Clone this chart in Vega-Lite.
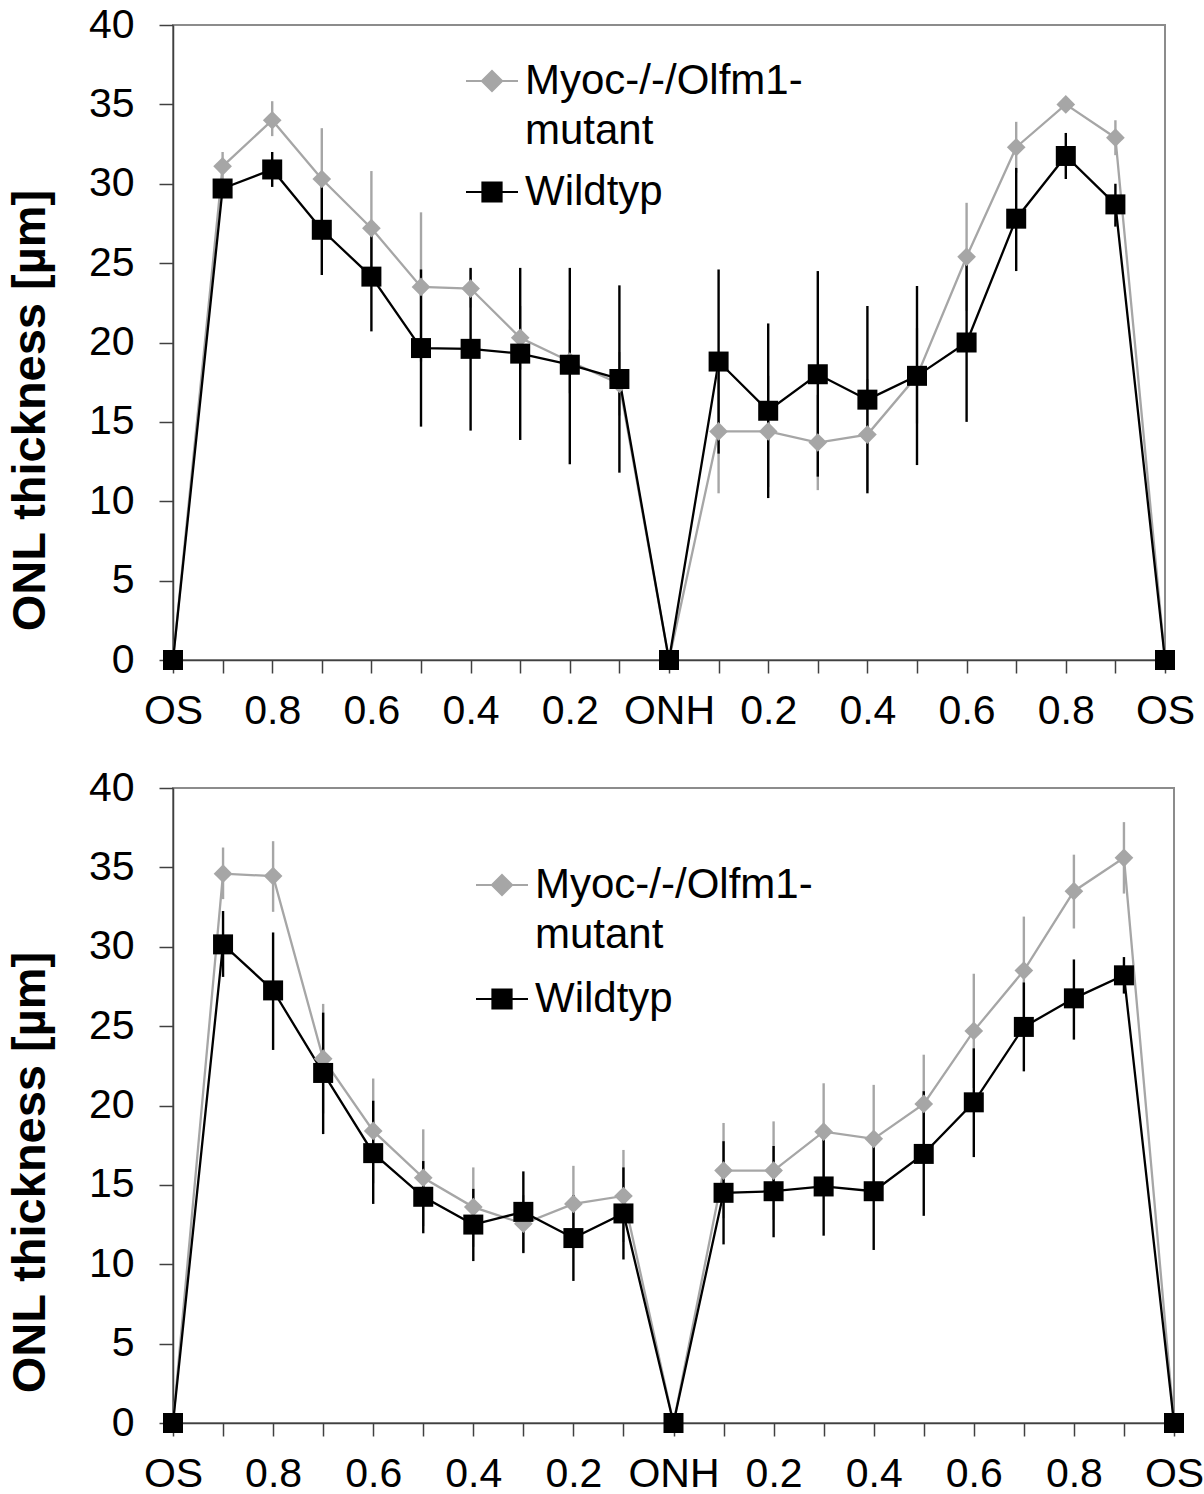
{
  "$schema": "https://vega.github.io/schema/vega-lite/v6.json",
  "background": "white",
  "padding": {"left": 5, "top": 3, "right": 30, "bottom": 5},
  "spacing": 128,
  "bounds": "flush",
  "config": {
    "font": "Liberation Sans",
    "style": {"guide-label": {"lineHeight": 50}},
    "view": {"stroke": "#8c8c8c", "strokeWidth": 2},
    "axis": {"grid": false, "domainColor": "#404040", "domainWidth": 1.5, "tickColor": "#404040", "tickWidth": 1.5, "labelColor": "#000000", "labelFontSize": 41, "labelFont": "Liberation Sans"},
    "axisY": {"titleFontSize": 47, "titleFontWeight": "bold", "titleColor": "#000000", "titleFont": "Liberation Sans", "titlePadding": 34, "tickSize": 14, "labelPadding": 25},
    "axisX": {"tickSize": 13, "labelPadding": 18, "labelOverlap": false, "labelFlush": false, "labelBound": false},
    "legend": {
      "title": null, "orient": "none", "direction": "vertical", "padding": 0,
      "symbolSize": 2704, "symbolStrokeWidth": 2, "symbolOpacity": 1,
      "labelFontSize": 42, "labelColor": "#000000", "labelFont": "Liberation Sans", "labelOffset": 6, "labelLimit": 1000
    }
  },
  "datasets": {
    "top": [
      {"pos": 0, "group": "Myoc-/-/Olfm1-mutant", "mean": 0, "lo": null, "hi": null},
      {"pos": 1, "group": "Myoc-/-/Olfm1-mutant", "mean": 31.1, "lo": 30.1, "hi": 32.0},
      {"pos": 2, "group": "Myoc-/-/Olfm1-mutant", "mean": 34.0, "lo": 33.0, "hi": 35.2},
      {"pos": 3, "group": "Myoc-/-/Olfm1-mutant", "mean": 30.3, "lo": 27.1, "hi": 33.5},
      {"pos": 4, "group": "Myoc-/-/Olfm1-mutant", "mean": 27.2, "lo": 23.6, "hi": 30.8},
      {"pos": 5, "group": "Myoc-/-/Olfm1-mutant", "mean": 23.5, "lo": 18.8, "hi": 28.2},
      {"pos": 6, "group": "Myoc-/-/Olfm1-mutant", "mean": 23.4, "lo": 22.2, "hi": 24.6},
      {"pos": 7, "group": "Myoc-/-/Olfm1-mutant", "mean": 20.3, "lo": 18.3, "hi": 22.3},
      {"pos": 8, "group": "Myoc-/-/Olfm1-mutant", "mean": 18.8, "lo": 16.8, "hi": 20.8},
      {"pos": 9, "group": "Myoc-/-/Olfm1-mutant", "mean": 17.4, "lo": 15.4, "hi": 19.4},
      {"pos": 10, "group": "Myoc-/-/Olfm1-mutant", "mean": 0, "lo": null, "hi": null},
      {"pos": 11, "group": "Myoc-/-/Olfm1-mutant", "mean": 14.4, "lo": 10.5, "hi": 18.3},
      {"pos": 12, "group": "Myoc-/-/Olfm1-mutant", "mean": 14.4, "lo": 10.9, "hi": 17.9},
      {"pos": 13, "group": "Myoc-/-/Olfm1-mutant", "mean": 13.7, "lo": 10.7, "hi": 16.7},
      {"pos": 14, "group": "Myoc-/-/Olfm1-mutant", "mean": 14.2, "lo": 10.7, "hi": 17.7},
      {"pos": 15, "group": "Myoc-/-/Olfm1-mutant", "mean": 17.9, "lo": 14.9, "hi": 20.9},
      {"pos": 16, "group": "Myoc-/-/Olfm1-mutant", "mean": 25.4, "lo": 22.0, "hi": 28.8},
      {"pos": 17, "group": "Myoc-/-/Olfm1-mutant", "mean": 32.3, "lo": 30.7, "hi": 33.9},
      {"pos": 18, "group": "Myoc-/-/Olfm1-mutant", "mean": 35.0, "lo": 34.7, "hi": 35.3},
      {"pos": 19, "group": "Myoc-/-/Olfm1-mutant", "mean": 32.9, "lo": 31.8, "hi": 34.0},
      {"pos": 20, "group": "Myoc-/-/Olfm1-mutant", "mean": 0, "lo": null, "hi": null},
      {"pos": 0, "group": "Wildtyp", "mean": 0, "lo": null, "hi": null},
      {"pos": 1, "group": "Wildtyp", "mean": 29.7, "lo": 29.2, "hi": 30.2},
      {"pos": 2, "group": "Wildtyp", "mean": 30.9, "lo": 29.8, "hi": 32.0},
      {"pos": 3, "group": "Wildtyp", "mean": 27.1, "lo": 24.25, "hi": 30.0},
      {"pos": 4, "group": "Wildtyp", "mean": 24.15, "lo": 20.7, "hi": 27.6},
      {"pos": 5, "group": "Wildtyp", "mean": 19.65, "lo": 14.7, "hi": 24.6},
      {"pos": 6, "group": "Wildtyp", "mean": 19.6, "lo": 14.45, "hi": 24.7},
      {"pos": 7, "group": "Wildtyp", "mean": 19.3, "lo": 13.86, "hi": 24.7},
      {"pos": 8, "group": "Wildtyp", "mean": 18.6, "lo": 12.33, "hi": 24.7},
      {"pos": 9, "group": "Wildtyp", "mean": 17.7, "lo": 11.8, "hi": 23.6},
      {"pos": 10, "group": "Wildtyp", "mean": 0, "lo": null, "hi": null},
      {"pos": 11, "group": "Wildtyp", "mean": 18.8, "lo": 13.0, "hi": 24.6},
      {"pos": 12, "group": "Wildtyp", "mean": 15.7, "lo": 10.2, "hi": 21.2},
      {"pos": 13, "group": "Wildtyp", "mean": 18.0, "lo": 11.55, "hi": 24.5},
      {"pos": 14, "group": "Wildtyp", "mean": 16.4, "lo": 10.5, "hi": 22.3},
      {"pos": 15, "group": "Wildtyp", "mean": 17.9, "lo": 12.28, "hi": 23.56},
      {"pos": 16, "group": "Wildtyp", "mean": 20.0, "lo": 15.0, "hi": 25.0},
      {"pos": 17, "group": "Wildtyp", "mean": 27.8, "lo": 24.5, "hi": 31.0},
      {"pos": 18, "group": "Wildtyp", "mean": 31.75, "lo": 30.3, "hi": 33.2},
      {"pos": 19, "group": "Wildtyp", "mean": 28.7, "lo": 27.3, "hi": 30.0},
      {"pos": 20, "group": "Wildtyp", "mean": 0, "lo": null, "hi": null}
    ],
    "bottom": [
      {"pos": 0, "group": "Myoc-/-/Olfm1-mutant", "mean": 0, "lo": null, "hi": null},
      {"pos": 1, "group": "Myoc-/-/Olfm1-mutant", "mean": 34.6, "lo": 33.0, "hi": 36.25},
      {"pos": 2, "group": "Myoc-/-/Olfm1-mutant", "mean": 34.45, "lo": 32.2, "hi": 36.65},
      {"pos": 3, "group": "Myoc-/-/Olfm1-mutant", "mean": 22.95, "lo": 19.5, "hi": 26.4},
      {"pos": 4, "group": "Myoc-/-/Olfm1-mutant", "mean": 18.4, "lo": 15.1, "hi": 21.7},
      {"pos": 5, "group": "Myoc-/-/Olfm1-mutant", "mean": 15.45, "lo": 12.4, "hi": 18.5},
      {"pos": 6, "group": "Myoc-/-/Olfm1-mutant", "mean": 13.6, "lo": 11.1, "hi": 16.1},
      {"pos": 7, "group": "Myoc-/-/Olfm1-mutant", "mean": 12.55, "lo": 10.75, "hi": 14.35},
      {"pos": 8, "group": "Myoc-/-/Olfm1-mutant", "mean": 13.8, "lo": 11.4, "hi": 16.2},
      {"pos": 9, "group": "Myoc-/-/Olfm1-mutant", "mean": 14.3, "lo": 11.4, "hi": 17.2},
      {"pos": 10, "group": "Myoc-/-/Olfm1-mutant", "mean": 0, "lo": null, "hi": null},
      {"pos": 11, "group": "Myoc-/-/Olfm1-mutant", "mean": 15.9, "lo": 12.9, "hi": 18.9},
      {"pos": 12, "group": "Myoc-/-/Olfm1-mutant", "mean": 15.9, "lo": 12.8, "hi": 19.0},
      {"pos": 13, "group": "Myoc-/-/Olfm1-mutant", "mean": 18.35, "lo": 15.35, "hi": 21.4},
      {"pos": 14, "group": "Myoc-/-/Olfm1-mutant", "mean": 17.9, "lo": 14.55, "hi": 21.3},
      {"pos": 15, "group": "Myoc-/-/Olfm1-mutant", "mean": 20.1, "lo": 17.0, "hi": 23.2},
      {"pos": 16, "group": "Myoc-/-/Olfm1-mutant", "mean": 24.7, "lo": 21.1, "hi": 28.3},
      {"pos": 17, "group": "Myoc-/-/Olfm1-mutant", "mean": 28.5, "lo": 25.0, "hi": 31.9},
      {"pos": 18, "group": "Myoc-/-/Olfm1-mutant", "mean": 33.5, "lo": 31.15, "hi": 35.8},
      {"pos": 19, "group": "Myoc-/-/Olfm1-mutant", "mean": 35.6, "lo": 33.35, "hi": 37.85},
      {"pos": 20, "group": "Myoc-/-/Olfm1-mutant", "mean": 0, "lo": null, "hi": null},
      {"pos": 0, "group": "Wildtyp", "mean": 0, "lo": null, "hi": null},
      {"pos": 1, "group": "Wildtyp", "mean": 30.15, "lo": 28.1, "hi": 32.25},
      {"pos": 2, "group": "Wildtyp", "mean": 27.25, "lo": 23.5, "hi": 30.9},
      {"pos": 3, "group": "Wildtyp", "mean": 22.05, "lo": 18.2, "hi": 25.85},
      {"pos": 4, "group": "Wildtyp", "mean": 17.0, "lo": 13.8, "hi": 20.3},
      {"pos": 5, "group": "Wildtyp", "mean": 14.25, "lo": 11.95, "hi": 16.5},
      {"pos": 6, "group": "Wildtyp", "mean": 12.5, "lo": 10.2, "hi": 14.75},
      {"pos": 7, "group": "Wildtyp", "mean": 13.3, "lo": 10.7, "hi": 15.85},
      {"pos": 8, "group": "Wildtyp", "mean": 11.65, "lo": 8.95, "hi": 14.35},
      {"pos": 9, "group": "Wildtyp", "mean": 13.2, "lo": 10.3, "hi": 16.1},
      {"pos": 10, "group": "Wildtyp", "mean": 0, "lo": null, "hi": null},
      {"pos": 11, "group": "Wildtyp", "mean": 14.5, "lo": 11.25, "hi": 17.75},
      {"pos": 12, "group": "Wildtyp", "mean": 14.6, "lo": 11.7, "hi": 17.45},
      {"pos": 13, "group": "Wildtyp", "mean": 14.9, "lo": 11.8, "hi": 18.0},
      {"pos": 14, "group": "Wildtyp", "mean": 14.6, "lo": 10.9, "hi": 18.3},
      {"pos": 15, "group": "Wildtyp", "mean": 16.95, "lo": 13.05, "hi": 20.9},
      {"pos": 16, "group": "Wildtyp", "mean": 20.2, "lo": 16.75, "hi": 23.6},
      {"pos": 17, "group": "Wildtyp", "mean": 24.95, "lo": 22.15, "hi": 27.75},
      {"pos": 18, "group": "Wildtyp", "mean": 26.75, "lo": 24.15, "hi": 29.2},
      {"pos": 19, "group": "Wildtyp", "mean": 28.2, "lo": 27.05, "hi": 29.35},
      {"pos": 20, "group": "Wildtyp", "mean": 0, "lo": null, "hi": null}
    ]
  },
  "resolve": {
    "scale": {"fill": "independent", "stroke": "independent", "shape": "independent"},
    "legend": {"fill": "independent", "stroke": "independent", "shape": "independent"}
  },
  "vconcat": [
    {
      "width": 992,
      "height": 635,
      "data": {"name": "top"},
      "encoding": {
        "x": {
          "field": "pos", "type": "quantitative",
          "scale": {"domain": [0, 20], "nice": false, "zero": false},
          "axis": {
            "title": null,
            "values": [0,1,2,3,4,5,6,7,8,9,10,11,12,13,14,15,16,17,18,19,20],
            "labelExpr": "['OS','','0.8','','0.6','','0.4','','0.2','','ONH','','0.2','','0.4','','0.6','','0.8','','OS'][datum.value]"
          }
        }
      },
      "layer": [
        {
          "transform": [{"filter": "false"}],
          "mark": {"type": "point", "filled": true, "opacity": 1},
          "encoding": {
            "y": {
              "field": "mean", "type": "quantitative", "scale": {"domain": [0, 40], "nice": false}, "title": "ONL thickness [µm]",
              "axis": {"values": [0,5,10,15,20,25,30,35,40], "titleY": 385}
            },
            "fill": {
              "field": "group", "type": "nominal",
              "scale": {"domain": ["Myoc-/-/Olfm1-mutant", "Wildtyp"], "range": ["#a6a6a6", "#000000"]},
              "legend": {"legendX": 292, "legendY": 29, "rowPadding": 13, "labelExpr": "datum.label === 'Myoc-/-/Olfm1-mutant' ? ['Myoc-/-/Olfm1-', 'mutant'] : datum.label"}
            },
            "stroke": {
              "field": "group", "type": "nominal",
              "scale": {"domain": ["Myoc-/-/Olfm1-mutant", "Wildtyp"], "range": ["#a6a6a6", "#000000"]},
              "legend": {"legendX": 292, "legendY": 29, "rowPadding": 13, "labelExpr": "datum.label === 'Myoc-/-/Olfm1-mutant' ? ['Myoc-/-/Olfm1-', 'mutant'] : datum.label"}
            },
            "shape": {
              "field": "group", "type": "nominal",
              "scale": {"domain": ["Myoc-/-/Olfm1-mutant", "Wildtyp"], "range": ["M-1,0L1,0M0,-0.39L0.39,0L0,0.39L-0.39,0Z", "M-1,0L1,0M-0.37,-0.37L0.37,-0.37L0.37,0.37L-0.37,0.37Z"]},
              "legend": {"legendX": 292, "legendY": 29, "rowPadding": 13, "labelExpr": "datum.label === 'Myoc-/-/Olfm1-mutant' ? ['Myoc-/-/Olfm1-', 'mutant'] : datum.label"}
            }
          }
        },
        {
          "mark": {"type": "line", "strokeWidth": 2.3},
          "encoding": {
            "y": {"field": "mean", "type": "quantitative", "title": "ONL thickness [µm]"},
            "stroke": {"field": "group", "type": "nominal", "scale": {"domain": ["Myoc-/-/Olfm1-mutant", "Wildtyp"], "range": ["#a6a6a6", "#000000"]}}
          }
        },
        {
          "mark": {"type": "rule", "strokeWidth": 2.4},
          "encoding": {
            "y": {"field": "lo", "type": "quantitative", "title": "ONL thickness [µm]"},
            "y2": {"field": "hi"},
            "stroke": {"field": "group", "type": "nominal", "scale": {"domain": ["Myoc-/-/Olfm1-mutant", "Wildtyp"], "range": ["#a6a6a6", "#000000"]}}
          }
        },
        {
          "transform": [{"filter": "datum.group === 'Myoc-/-/Olfm1-mutant'"}],
          "mark": {"type": "point", "filled": true, "opacity": 1, "size": 350, "shape": "diamond"},
          "encoding": {
            "y": {"field": "mean", "type": "quantitative", "title": "ONL thickness [µm]"},
            "fill": {"field": "group", "type": "nominal", "scale": {"domain": ["Myoc-/-/Olfm1-mutant", "Wildtyp"], "range": ["#a6a6a6", "#000000"]}}
          }
        },
        {
          "transform": [{"filter": "datum.group === 'Wildtyp'"}],
          "mark": {"type": "point", "filled": true, "opacity": 1, "size": 400, "shape": "square"},
          "encoding": {
            "y": {"field": "mean", "type": "quantitative", "title": "ONL thickness [µm]"},
            "fill": {"field": "group", "type": "nominal", "scale": {"domain": ["Myoc-/-/Olfm1-mutant", "Wildtyp"], "range": ["#a6a6a6", "#000000"]}}
          }
        }
      ]
    },
    {
      "width": 1001,
      "height": 635,
      "data": {"name": "bottom"},
      "encoding": {
        "x": {
          "field": "pos", "type": "quantitative",
          "scale": {"domain": [0, 20], "nice": false, "zero": false},
          "axis": {
            "title": null,
            "values": [0,1,2,3,4,5,6,7,8,9,10,11,12,13,14,15,16,17,18,19,20],
            "labelExpr": "['OS','','0.8','','0.6','','0.4','','0.2','','ONH','','0.2','','0.4','','0.6','','0.8','','OS'][datum.value]"
          }
        }
      },
      "layer": [
        {
          "transform": [{"filter": "false"}],
          "mark": {"type": "point", "filled": true, "opacity": 1},
          "encoding": {
            "y": {
              "field": "mean", "type": "quantitative", "scale": {"domain": [0, 40], "nice": false}, "title": "ONL thickness [µm]",
              "axis": {"values": [0,5,10,15,20,25,30,35,40], "titleY": 384}
            },
            "fill": {
              "field": "group", "type": "nominal",
              "scale": {"domain": ["Myoc-/-/Olfm1-mutant", "Wildtyp"], "range": ["#a6a6a6", "#000000"]},
              "legend": {"legendX": 302, "legendY": 70, "rowPadding": 16, "labelExpr": "datum.label === 'Myoc-/-/Olfm1-mutant' ? ['Myoc-/-/Olfm1-', 'mutant'] : datum.label"}
            },
            "stroke": {
              "field": "group", "type": "nominal",
              "scale": {"domain": ["Myoc-/-/Olfm1-mutant", "Wildtyp"], "range": ["#a6a6a6", "#000000"]},
              "legend": {"legendX": 302, "legendY": 70, "rowPadding": 16, "labelExpr": "datum.label === 'Myoc-/-/Olfm1-mutant' ? ['Myoc-/-/Olfm1-', 'mutant'] : datum.label"}
            },
            "shape": {
              "field": "group", "type": "nominal",
              "scale": {"domain": ["Myoc-/-/Olfm1-mutant", "Wildtyp"], "range": ["M-1,0L1,0M0,-0.39L0.39,0L0,0.39L-0.39,0Z", "M-1,0L1,0M-0.37,-0.37L0.37,-0.37L0.37,0.37L-0.37,0.37Z"]},
              "legend": {"legendX": 302, "legendY": 70, "rowPadding": 16, "labelExpr": "datum.label === 'Myoc-/-/Olfm1-mutant' ? ['Myoc-/-/Olfm1-', 'mutant'] : datum.label"}
            }
          }
        },
        {
          "mark": {"type": "line", "strokeWidth": 2.3},
          "encoding": {
            "y": {"field": "mean", "type": "quantitative", "title": "ONL thickness [µm]"},
            "stroke": {"field": "group", "type": "nominal", "scale": {"domain": ["Myoc-/-/Olfm1-mutant", "Wildtyp"], "range": ["#a6a6a6", "#000000"]}}
          }
        },
        {
          "mark": {"type": "rule", "strokeWidth": 2.4},
          "encoding": {
            "y": {"field": "lo", "type": "quantitative", "title": "ONL thickness [µm]"},
            "y2": {"field": "hi"},
            "stroke": {"field": "group", "type": "nominal", "scale": {"domain": ["Myoc-/-/Olfm1-mutant", "Wildtyp"], "range": ["#a6a6a6", "#000000"]}}
          }
        },
        {
          "transform": [{"filter": "datum.group === 'Myoc-/-/Olfm1-mutant'"}],
          "mark": {"type": "point", "filled": true, "opacity": 1, "size": 350, "shape": "diamond"},
          "encoding": {
            "y": {"field": "mean", "type": "quantitative", "title": "ONL thickness [µm]"},
            "fill": {"field": "group", "type": "nominal", "scale": {"domain": ["Myoc-/-/Olfm1-mutant", "Wildtyp"], "range": ["#a6a6a6", "#000000"]}}
          }
        },
        {
          "transform": [{"filter": "datum.group === 'Wildtyp'"}],
          "mark": {"type": "point", "filled": true, "opacity": 1, "size": 400, "shape": "square"},
          "encoding": {
            "y": {"field": "mean", "type": "quantitative", "title": "ONL thickness [µm]"},
            "fill": {"field": "group", "type": "nominal", "scale": {"domain": ["Myoc-/-/Olfm1-mutant", "Wildtyp"], "range": ["#a6a6a6", "#000000"]}}
          }
        }
      ]
    }
  ]
}
